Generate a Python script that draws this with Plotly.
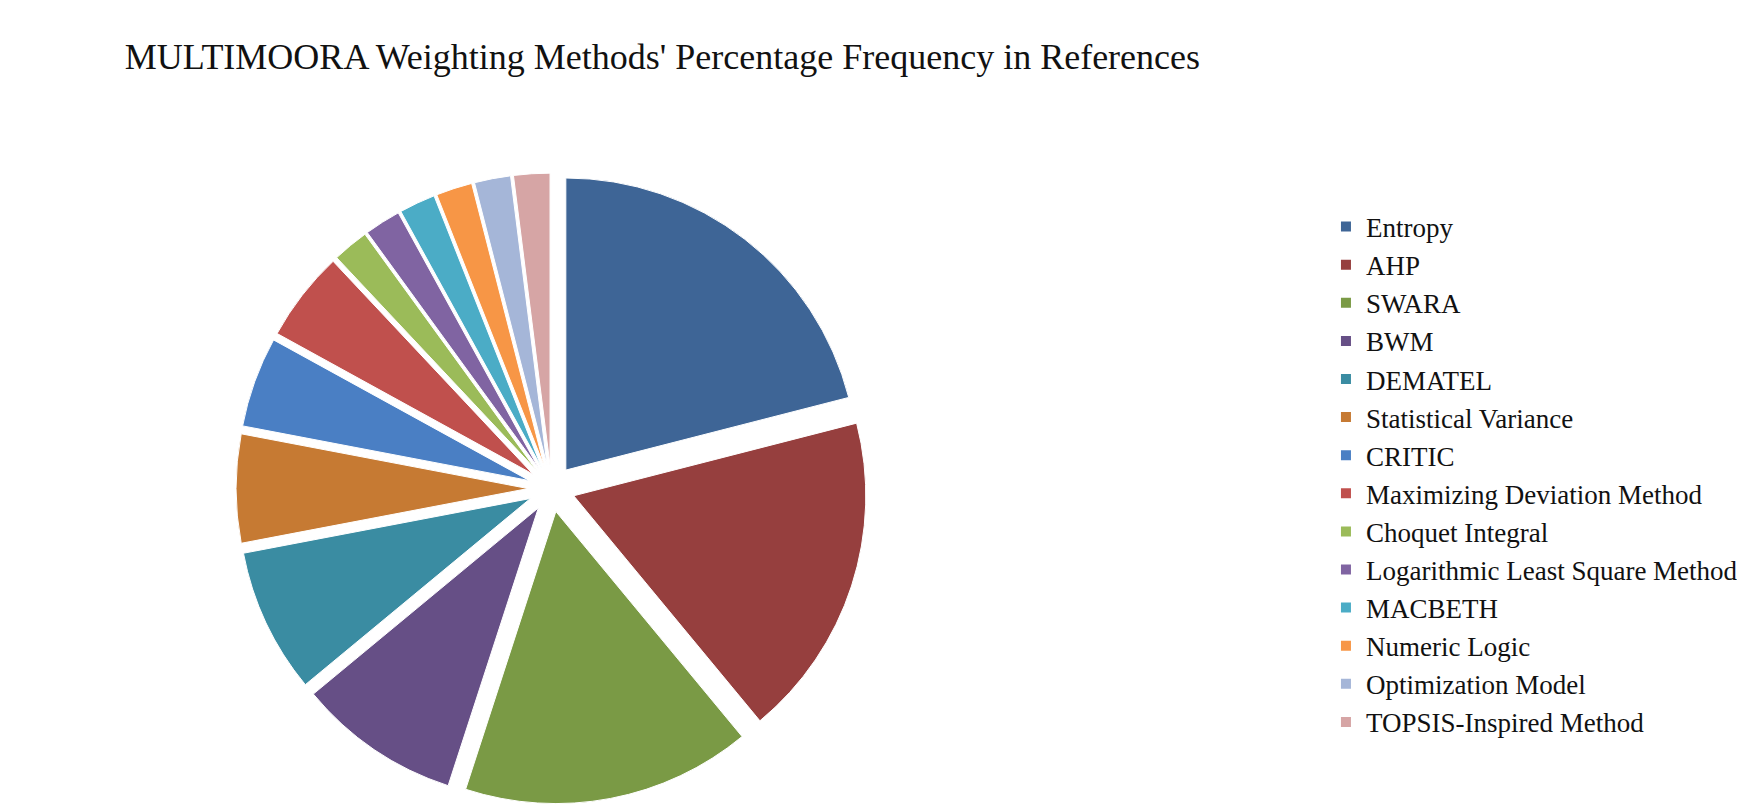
import plotly.graph_objects as go

labels = ["Entropy", "AHP", "SWARA", "BWM", "DEMATEL", "Statistical Variance", "CRITIC",
          "Maximizing Deviation Method", "Choquet Integral", "Logarithmic Least Square Method",
          "MACBETH", "Numeric Logic", "Optimization Model", "TOPSIS-Inspired Method"]
values = [21, 18, 16, 9, 8, 6, 5, 5, 2, 2, 2, 2, 2, 2]
colors = ["#3E6596", "#963F3E", "#7A9A45", "#664F86", "#3A8CA2", "#C67A33", "#4A7FC4",
          "#C0504D", "#9BBB59", "#8064A2", "#4BACC6", "#F79646", "#A5B6D8", "#D6A5A5"]

fig = go.Figure(go.Pie(
    labels=labels, values=values, sort=False, direction="clockwise", rotation=0,
    marker=dict(colors=colors, line=dict(color="#FFFFFF", width=1)),
    pull=[0.08] * len(values), textinfo="none", hoverinfo="label+percent",
    domain=dict(x=[0.0, 0.62], y=[0.0, 0.9]),
))
fig.update_layout(
    width=1745, height=806, paper_bgcolor="white", plot_bgcolor="white",
    title=dict(text="MULTIMOORA Weighting Methods' Percentage Frequency in References",
               x=0.375, xanchor="center", y=0.955,
               font=dict(family="Liberation Serif", size=36, color="#111")),
    legend=dict(x=0.76, y=0.47, yanchor="middle", xanchor="left",
                font=dict(family="Liberation Serif", size=27, color="#111"),
                itemsizing="constant"),
    margin=dict(l=10, r=10, t=95, b=10),
)
fig.write_html("out.html")
